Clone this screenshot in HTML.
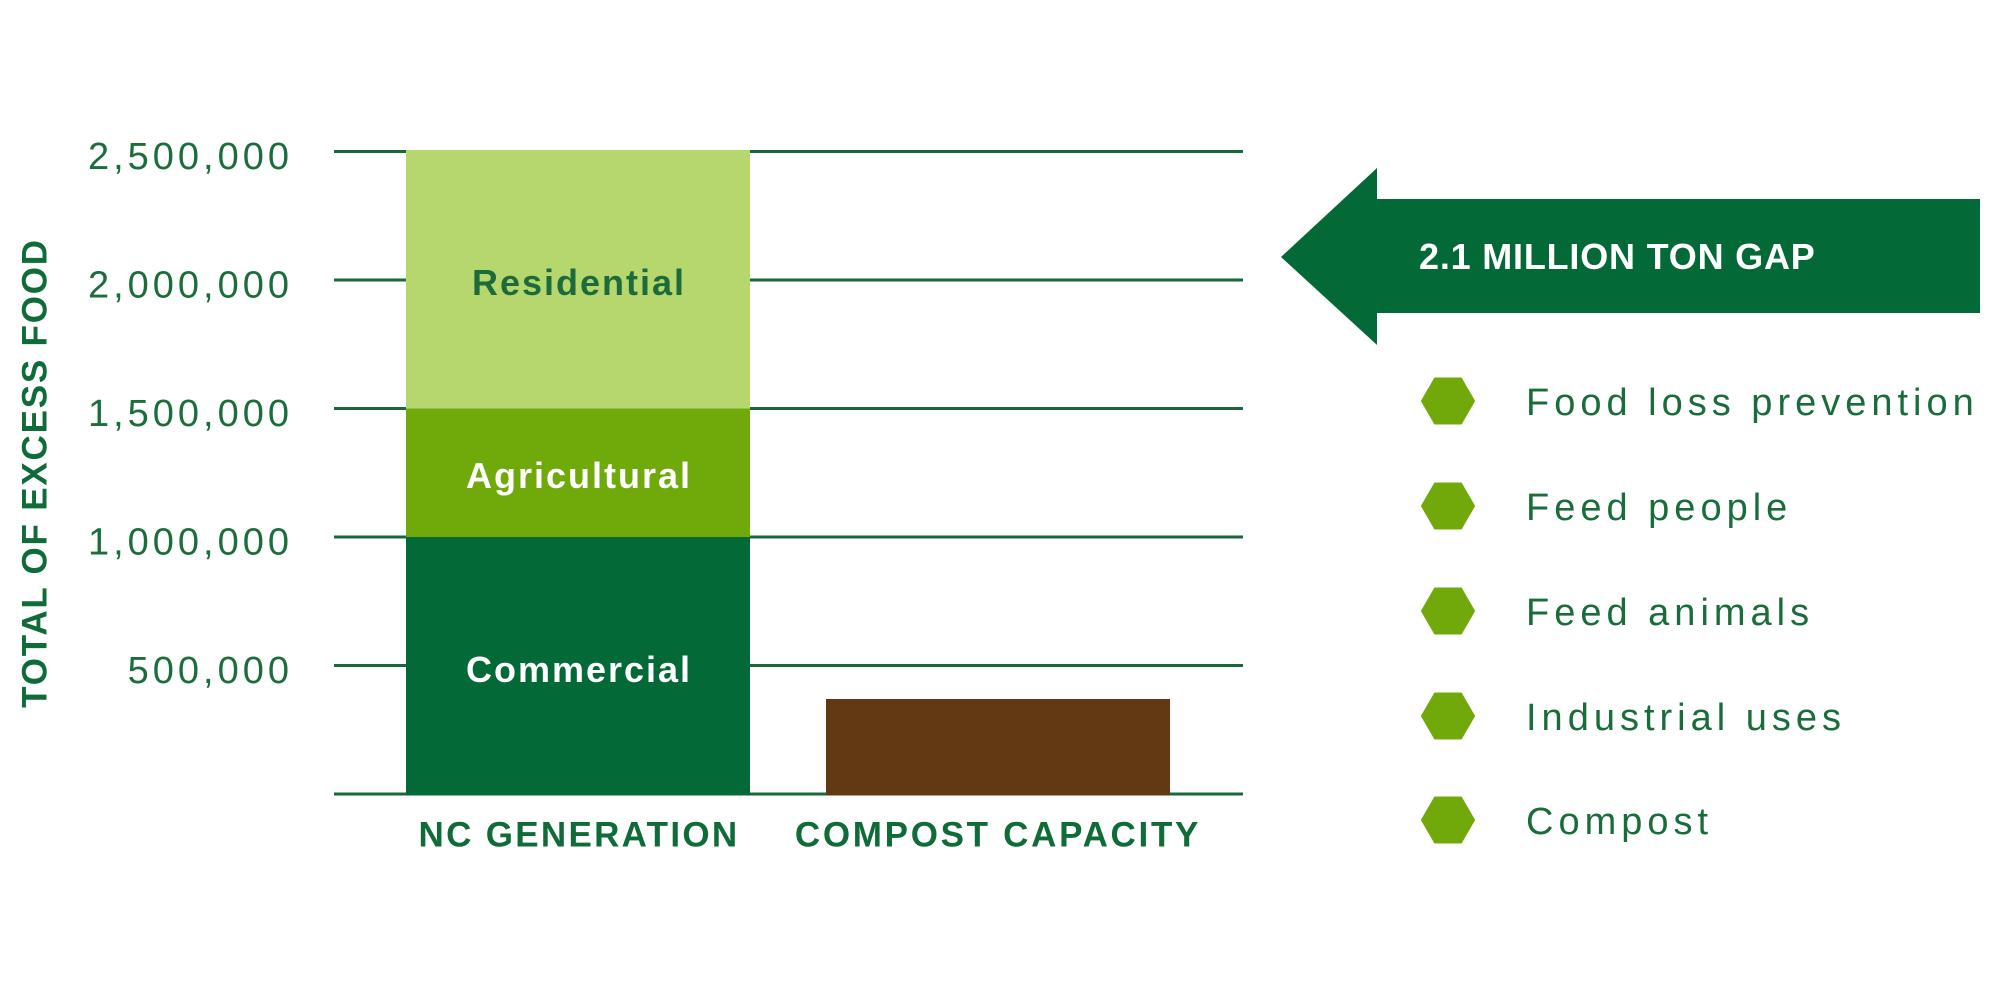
<!DOCTYPE html>
<html>
<head>
<meta charset="utf-8">
<style>
  html, body { margin: 0; padding: 0; background: #ffffff; }
  body { width: 2000px; height: 1000px; overflow: hidden; }
  svg { display: block; }
  text { font-family: "Liberation Sans", sans-serif; }
</style>
</head>
<body>
<svg width="2000" height="1000" viewBox="0 0 2000 1000" xmlns="http://www.w3.org/2000/svg">
  <rect x="0" y="0" width="2000" height="1000" fill="#ffffff"/>

  <!-- Y axis title -->
  <text transform="translate(34,473) rotate(-90)" x="0" y="12.5" text-anchor="middle"
        font-size="35" font-weight="bold" letter-spacing="1.8" fill="#0f6b38">TOTAL OF EXCESS FOOD</text>

  <!-- Tick labels -->
  <g font-size="38" letter-spacing="4" fill="#1b6e3c" text-anchor="end">
    <text x="293" y="169">2,500,000</text>
    <text x="293" y="297.5">2,000,000</text>
    <text x="293" y="426">1,500,000</text>
    <text x="293" y="554.5">1,000,000</text>
    <text x="293" y="683">500,000</text>
  </g>

  <!-- Gridlines -->
  <g stroke="#17683a" stroke-width="3">
    <line x1="334" y1="151.5" x2="1243" y2="151.5"/>
    <line x1="334" y1="280" x2="1243" y2="280"/>
    <line x1="334" y1="408.5" x2="1243" y2="408.5"/>
    <line x1="334" y1="537" x2="1243" y2="537"/>
    <line x1="334" y1="665.5" x2="1243" y2="665.5"/>
    <line x1="334" y1="794" x2="1243" y2="794"/>
  </g>

  <!-- NC Generation stacked bar -->
  <rect x="406" y="150" width="344" height="258.5" fill="#b6d66e"/>
  <rect x="406" y="408.5" width="344" height="128.5" fill="#70aa0a"/>
  <rect x="406" y="537" width="344" height="258.5" fill="#026937"/>

  <!-- Compost capacity bar -->
  <rect x="826" y="699" width="344" height="96.5" fill="#633914"/>

  <!-- Bar labels -->
  <g font-size="36" font-weight="bold" text-anchor="middle" letter-spacing="2">
    <text x="579" y="295" fill="#1d6b3a">Residential</text>
    <text x="579" y="488" fill="#ffffff">Agricultural</text>
    <text x="579" y="682" fill="#ffffff">Commercial</text>
  </g>

  <!-- X labels -->
  <g font-size="35" font-weight="bold" text-anchor="middle" fill="#0f6b38">
    <text x="579" y="846.5" letter-spacing="2.3">NC GENERATION</text>
    <text x="998" y="846.5" letter-spacing="2.7">COMPOST CAPACITY</text>
  </g>

  <!-- Gap arrow -->
  <polygon points="1281,257 1377,168 1377,199 1980,199 1980,313 1377,313 1377,345" fill="#036a37"/>
  <text x="1419" y="269" font-size="36" font-weight="bold" letter-spacing="0.8" fill="#ffffff">2.1 MILLION TON GAP</text>

  <!-- Hexagon list -->
  <g fill="#71a90b" stroke="#71a90b" stroke-width="2" stroke-linejoin="round">
    <polygon points="1422,401 1435,378.5 1461,378.5 1474,401 1461,423.5 1435,423.5"/>
    <polygon points="1422,506 1435,483.5 1461,483.5 1474,506 1461,528.5 1435,528.5"/>
    <polygon points="1422,611 1435,588.5 1461,588.5 1474,611 1461,633.5 1435,633.5"/>
    <polygon points="1422,716 1435,693.5 1461,693.5 1474,716 1461,738.5 1435,738.5"/>
    <polygon points="1422,820 1435,797.5 1461,797.5 1474,820 1461,842.5 1435,842.5"/>
  </g>
  <g font-size="38" letter-spacing="5" fill="#1a6d3b">
    <text x="1526" y="415">Food loss prevention</text>
    <text x="1526" y="520">Feed people</text>
    <text x="1526" y="625">Feed animals</text>
    <text x="1526" y="730">Industrial uses</text>
    <text x="1526" y="834">Compost</text>
  </g>
</svg>
</body>
</html>
